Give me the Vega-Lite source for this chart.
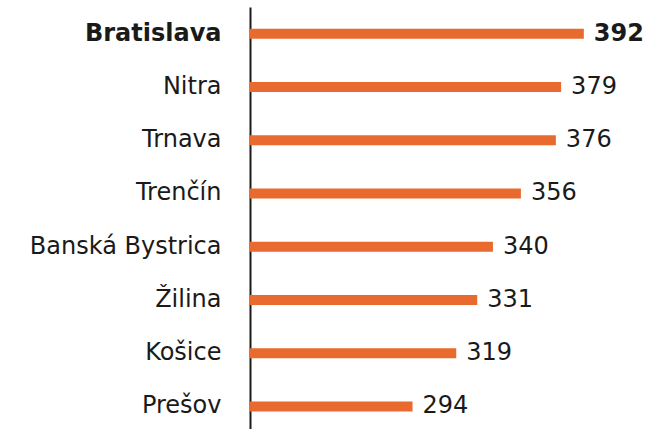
{
  "$schema": "https://vega.github.io/schema/vega-lite/v6.json",
  "autosize": "none",
  "width": 395,
  "height": 426,
  "padding": {"left": 250, "top": 7, "right": 0, "bottom": 0},
  "background": "white",
  "data": {"values": [
    {"region": "Bratislava", "value": 392},
    {"region": "Nitra", "value": 379},
    {"region": "Trnava", "value": 376},
    {"region": "Trenčín", "value": 356},
    {"region": "Banská Bystrica", "value": 340},
    {"region": "Žilina", "value": 331},
    {"region": "Košice", "value": 319},
    {"region": "Prešov", "value": 294}
  ]},
  "config": {"view": {"stroke": null}, "font": "DejaVu Sans"},
  "encoding": {
    "y": {"field": "region", "type": "nominal", "sort": null,
      "scale": {"paddingInner": 0, "paddingOuter": 0},
      "axis": {"title": null, "ticks": false, "domainColor": "#1a1a1a", "domainWidth": 2,
        "labelFontSize": 24, "labelColor": "#1a1a1a", "labelPadding": 29, "labelFont": "DejaVu Sans", "labelLimit": 400,
        "labelFontWeight": {"condition": {"test": "datum.value == 'Bratislava'", "value": "bold"}, "value": "normal"}}}
  },
  "layer": [
    {"mark": {"type": "bar", "color": "#e86a2e", "height": 10},
     "encoding": {
       "x": {"field": "value", "type": "quantitative", "scale": {"domain": [201, 427], "zero": false, "nice": false}, "axis": null},
       "x2": {"datum": 201}
     }},
    {"transform": [{"filter": "datum.region != 'Bratislava'"}],
     "mark": {"type": "text", "align": "left", "baseline": "middle", "dx": 10, "fontSize": 24, "color": "#1a1a1a", "font": "DejaVu Sans"},
     "encoding": {
       "x": {"field": "value", "type": "quantitative"},
       "text": {"field": "value", "type": "quantitative"}
     }},
    {"transform": [{"filter": "datum.region == 'Bratislava'"}],
     "mark": {"type": "text", "align": "left", "baseline": "middle", "dx": 10, "fontSize": 24, "fontWeight": "bold", "color": "#1a1a1a", "font": "DejaVu Sans"},
     "encoding": {
       "x": {"field": "value", "type": "quantitative"},
       "text": {"field": "value", "type": "quantitative"}
     }}
  ]
}
